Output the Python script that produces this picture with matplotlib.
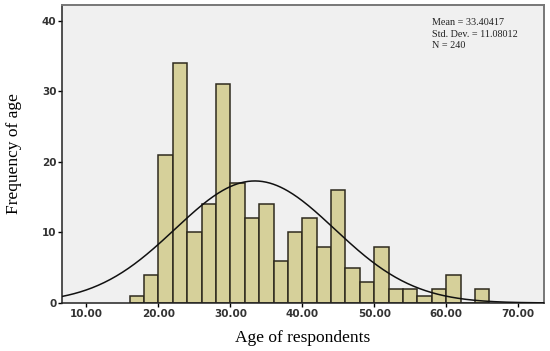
import numpy as np
import matplotlib
matplotlib.use("Agg")
import matplotlib.pyplot as plt

# histogram of respondent ages, bin width 2
bin_edges = np.arange(16, 68, 2)
counts = [1, 4, 21, 34, 10, 14, 31, 17, 12, 14, 6, 10, 12,
          8, 16, 5, 3, 8, 2, 2, 1, 2, 4, 0, 2]
mean = 33.40417
std = 11.08012
n = 240
bin_width = 2
x_ticks = [10, 20, 30, 40, 50, 60, 70]
y_ticks = [0, 10, 20, 30, 40]

fig = plt.figure(figsize=(5.5, 3.51), dpi=100)
ax = fig.add_axes([62 / 550, 1 - 303 / 351, 482 / 550, 298 / 351])
ax.set_facecolor("#F0F0F0")

ax.bar(bin_edges[:-1], counts, width=bin_width, align="edge",
       color="#D6D09A", edgecolor="#2E2A1E", linewidth=1.1, zorder=2)

# fitted normal curve, scaled to counts
xs = np.linspace(6.6, 73.6, 400)
curve = n * bin_width / (std * np.sqrt(2 * np.pi)) * np.exp(-0.5 * ((xs - mean) / std) ** 2)
ax.plot(xs, curve, color="#111111", linewidth=1.1, zorder=3)

ax.set_xlim(6.6, 73.6)
ax.set_ylim(0, 42.2)
ax.set_xticks(x_ticks)
ax.set_xticklabels([f"{v:.2f}" for v in x_ticks])
ax.set_yticks(y_ticks)
ax.tick_params(axis="both", direction="out", length=3, width=1, labelsize=7.5, pad=1)
for lab in ax.get_xticklabels() + ax.get_yticklabels():
    lab.set_fontweight("bold")
    lab.set_color("#333333")

for side in ["left", "bottom"]:
    ax.spines[side].set_color("#222222")
    ax.spines[side].set_linewidth(1.1)
for side in ["top", "right"]:
    ax.spines[side].set_color("#777777")
    ax.spines[side].set_linewidth(1.4)

ax.set_xlabel("Age of respondents", family="Liberation Serif", fontsize=12.5, labelpad=8)
ax.set_ylabel("Frequency of age", family="Liberation Serif", fontsize=12.5, labelpad=14)

ax.text(0.768, 0.955,
        f"Mean = {mean}\nStd. Dev. = {std}\nN = {n}",
        transform=ax.transAxes, family="Liberation Serif", fontsize=7.3,
        va="top", ha="left", linespacing=1.35, color="#222222")

fig.savefig("out.png", dpi=100)
